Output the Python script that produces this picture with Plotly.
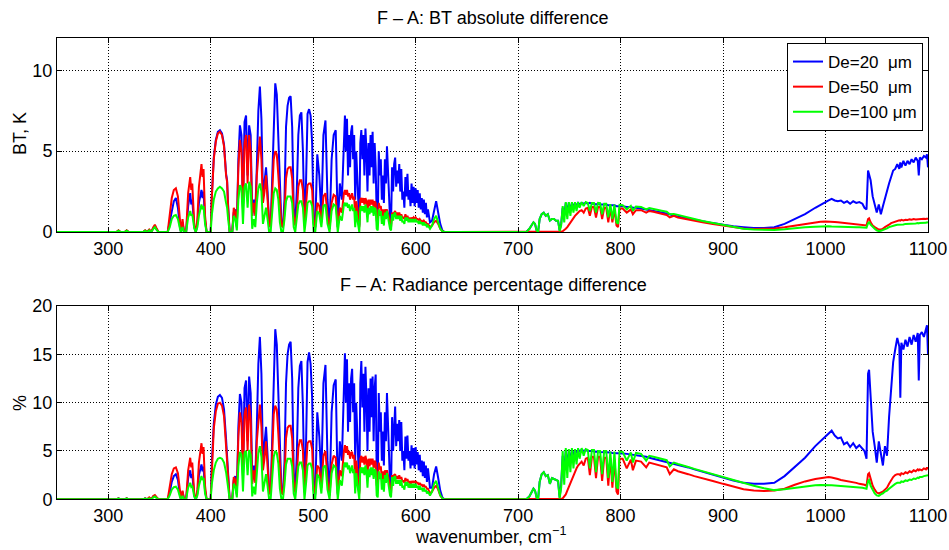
import plotly.graph_objects as go

# ---------------- data ----------------
# shared wavenumber grid (cm^-1)
WN = [
    # 250-358
    250, 305, 308, 310, 312, 316, 318, 320, 334, 336,
    338, 340, 342, 344, 345.5, 347, 349, 358,
    # 358-400
    360, 362, 364, 366, 368, 370, 371, 372.5, 374, 376,
    378, 380, 381, 382, 384, 385.5, 387, 388.5, 390, 391,
    392, 393, 394.5, 396, 400,
    # 400-421
    401, 403, 405, 407, 409, 411, 413, 415, 416, 417,
    418.5, 421,
    # 421-500
    422.5, 424, 425.5, 427, 428.5, 430, 431.5, 433, 434.5, 436,
    437.5, 439, 440.5, 442, 443.5, 445, 446.5, 448, 449.5, 451,
    452.5, 454, 455.5, 457, 458.5, 460, 461.5, 463, 464.5, 466,
    467.5, 469, 470.5, 472, 473.5, 475, 476.5, 478, 479.5, 481,
    482.5, 484, 485.5, 487, 488.5, 490, 491.5, 493, 494.5, 496,
    497.5, 499, 500.5,
    # 502-528
    502, 504, 506, 508, 510, 512, 514, 516, 518, 520,
    522, 524, 526, 528,
    # 530-612
    530, 531, 532, 533, 534, 535, 536, 537, 538, 539,
    540, 541, 542, 543, 544, 545, 546, 547, 548, 549,
    550, 551, 552, 553, 554, 555, 556, 557, 558, 559,
    560, 561, 562, 563, 564, 565, 566, 567, 568, 569,
    570, 571, 572, 573, 574, 575, 576, 577, 578, 579,
    580, 581, 582, 583, 584, 585, 586, 587, 588, 589,
    590, 591, 592, 593, 594, 595, 596, 597, 598, 599,
    600, 601, 602, 603, 604, 605, 606, 607, 608, 609,
    610, 611, 612,
    # 614-628
    614, 616, 618, 620, 622, 624, 626, 628,
    # 640-1100
    640, 700, 708, 711, 713, 715, 716.5, 718, 719.5, 721,
    723, 725, 727, 729, 731, 733, 735, 737, 739, 740.5,
    742, 743.5, 745, 746.5, 748, 749.5, 751, 752.5, 754, 755.5,
    757, 758.5, 760, 762, 764, 766, 768, 770, 772, 774,
    776, 778, 780, 782, 784, 786, 788, 790, 792, 794,
    796, 797.5, 799, 802, 806, 810, 812, 815, 820, 825,
    828, 832, 836, 840, 845, 848, 852, 856, 860, 866,
    872, 880, 890, 900, 910, 920, 930, 940, 950, 960,
    970, 980, 990, 995, 1000, 1003, 1006, 1009, 1012, 1015,
    1018, 1021, 1024, 1027, 1030, 1033, 1036, 1038, 1040, 1041.5,
    1042.5, 1044, 1046, 1048, 1050, 1052, 1054, 1056, 1058, 1060,
    1062, 1064, 1066, 1068, 1070, 1072, 1073, 1074, 1076, 1078,
    1080, 1082, 1084, 1086, 1088, 1090, 1091, 1092, 1094, 1096,
    1098, 1099, 1100,
]

# ---- top panel: BT absolute difference (K) ----
BT_DE20 = [
    0, 0, 0, 0.08, 0, 0, 0.08, 0, 0, 0.08,
    0, 0.12, 0, 0.25, 0.35, 0.2, 0, 0,
    0.6, 1.4, 1.9, 2.1, 1.5, 0.3, 0, 0.6, 0, 0,
    1.6, 2.4, 1.7, 2.0, 0.3, 0, 0.5, 1.8, 2.3, 2.6,
    2.1, 2.5, 0.7, 0, 0,
    2.1, 4.6, 5.7, 6.2, 6.3, 6.1, 5.4, 3.6, 3.2, 1.6,
    0, 0,
    1.2, 1.4, 0.3, 4.5, 6.6, 6.0, 1.5, 6.8, 7.2, 3.5,
    6.6, 6.0, 1.0, 2.0, 1.2, 4.0, 7.5, 9.0, 7.0, 2.2,
    3.0, 4.0, 2.5, 0.5, 0.3, 3.5, 7.5, 9.2, 8.5, 6.0,
    2.5, 0.5, 0.3, 2.0, 6.5, 7.8, 8.3, 8.4, 6.5, 1.5,
    0.5, 2.5, 6.0, 7.2, 7.4, 5.0, 0.5, 3.0, 7.3, 7.6,
    7.2, 5.5, 0.5,
    0.3, 4.8, 3.5, 1.0, 6.0, 6.9, 2.0, 0.2, 4.5, 6.0,
    6.3, 0.3, 3.0, 2.0,
    6.0, 7.2, 5.0, 7.0, 3.5, 6.0, 4.0, 6.2, 6.6, 4.5,
    6.0, 2.0, 5.0, 3.0, 1.0, 0.4, 5.5, 6.3, 4.5, 6.0,
    3.5, 6.4, 5.0, 2.5, 5.5, 3.5, 6.0, 4.0, 6.2, 3.0,
    5.5, 4.0, 1.0, 0.5, 5.0, 3.5, 4.5, 2.0, 3.5, 1.8,
    4.5, 3.0, 5.3, 3.5, 2.0, 0.8, 0.5, 4.0, 2.5, 4.2,
    4.6, 2.8, 3.8, 3.0, 4.2, 2.5, 3.9, 2.0, 2.5, 1.5,
    3.4, 2.2, 3.6, 2.0, 2.6, 1.6, 3.0, 1.8, 2.8, 1.6,
    2.7, 1.8, 2.6, 1.5, 2.4, 1.4, 2.1, 1.2, 2.0, 1.1,
    1.8, 0.9, 1.4,
    0.6, 0.7, 1.4, 1.9, 1.2, 0.5, 0.1, 0,
    0, 0, 0, 0.2, 0.4, 0.6, 0.5, 0.1, 0, 0.8,
    1.1, 1.2, 1.0, 1.1, 0.7, 0.8, 0.8, 0.7, 0.7, 0.1,
    0.5, 1.5, 1.0, 1.8, 1.2, 1.8, 1.3, 1.8, 1.5, 1.8,
    1.6, 1.8, 1.7, 1.8, 1.75, 1.8, 1.75, 1.8, 1.75, 1.75,
    1.7, 1.75, 1.7, 1.7, 1.7, 1.7, 1.65, 1.65, 1.65, 1.65,
    1.6, 1.6, 1.6, 1.6, 1.55, 1.55, 1.5, 1.5, 1.45, 1.4,
    1.35, 1.3, 1.25, 1.2, 1.15, 1.1, 1.0, 0.95, 0.9, 0.85,
    0.75, 0.65, 0.55, 0.45, 0.35, 0.3, 0.25, 0.25, 0.3, 0.5,
    0.8, 1.1, 1.5, 1.7, 1.85, 1.95, 2.05, 1.95, 1.9, 1.95,
    1.8, 1.9, 1.75, 1.9, 1.8, 1.85, 1.75, 1.5, 1.4, 3.8,
    3.6, 3.2, 2.2, 1.6, 1.2, 1.7, 1.1, 1.6, 2.1, 2.6,
    3.0, 3.4, 3.8, 3.9, 4.2, 3.9, 4.3, 4.0, 4.4, 4.1,
    4.4, 4.2, 4.5, 4.3, 4.6, 4.4, 3.5, 4.6, 4.5, 4.7,
    4.6, 4.8, 4.0,
]
BT_DE50 = [
    0, 0, 0, 0.1, 0, 0, 0.1, 0, 0, 0.1,
    0, 0.15, 0, 0.3, 0.45, 0.25, 0, 0,
    1.0, 2.1, 2.6, 2.7, 2.2, 0.5, 0, 0.8, 0, 0,
    2.4, 3.4, 2.6, 3.0, 0.4, 0, 0.8, 2.8, 3.6, 4.2,
    3.4, 3.9, 1.0, 0, 0,
    2.0, 4.5, 5.6, 6.1, 6.2, 6.0, 5.3, 3.5, 3.1, 1.5,
    0, 0,
    1.5, 1.2, 0.4, 4.0, 5.7, 5.0, 1.5, 5.5, 6.0, 3.0,
    6.0, 5.0, 1.0, 1.8, 1.0, 3.5, 5.0, 5.9, 4.5, 1.8,
    2.5, 3.5, 2.0, 0.5, 0.3, 2.5, 4.5, 5.0, 4.8, 3.5,
    1.5, 0.4, 0.3, 1.2, 3.3, 3.9, 4.0, 4.0, 3.3, 1.0,
    0.4, 1.2, 2.8, 3.2, 3.2, 2.6, 0.4, 1.5, 2.9, 3.0,
    3.0, 2.6, 0.6,
    0.3, 1.8, 1.6, 0.6, 2.2, 2.4, 1.0, 0.2, 1.8, 2.3,
    2.2, 0.3, 1.5, 1.2,
    2.4, 2.6, 2.3, 2.6, 2.2, 2.4, 2.0, 2.3, 2.4, 2.0,
    2.2, 1.0, 1.9, 1.5, 0.6, 0.3, 2.0, 2.1, 1.8, 2.1,
    1.7, 2.1, 1.9, 1.2, 2.0, 1.6, 2.0, 1.7, 2.0, 1.5,
    1.9, 1.8, 0.7, 0.5, 1.8, 1.5, 1.6, 1.0, 1.4, 0.9,
    1.4, 1.2, 1.4, 1.2, 0.9, 0.5, 0.3, 1.2, 1.0, 1.2,
    1.3, 1.0, 1.2, 1.0, 1.2, 1.0, 1.1, 0.9, 0.9, 0.8,
    1.1, 0.9, 1.0, 0.8, 0.9, 0.7, 0.9, 0.8, 0.9, 0.8,
    0.9, 0.8, 0.8, 0.7, 0.8, 0.7, 0.7, 0.6, 0.7, 0.6,
    0.6, 0.5, 0.5,
    0.3, 0.4, 0.6, 0.7, 0.5, 0.2, 0.05, 0,
    0, 0, 0, 0, 0, 0, 0, 0, 0, 0,
    0, 0, 0, 0, 0, 0, 0, 0, 0, 0,
    0.02, 0.05, 0.1, 0.2, 0.3, 0.45, 0.6, 0.75, 0.9, 1.0,
    1.1, 1.2, 1.3, 1.35, 1.2, 1.45, 1.5, 1.0, 1.55, 1.55,
    0.9, 1.55, 1.55, 0.8, 1.5, 1.5, 0.6, 1.5, 0.6, 1.45,
    0.4, 0.3, 1.45, 1.45, 1.2, 1.4, 1.1, 1.35, 1.35, 1.2,
    1.3, 1.25, 1.2, 1.15, 1.05, 0.9, 1.0, 0.9, 0.85, 0.75,
    0.7, 0.6, 0.5, 0.4, 0.3, 0.22, 0.18, 0.2, 0.22, 0.3,
    0.4, 0.5, 0.6, 0.63, 0.65, 0.65, 0.63, 0.62, 0.6, 0.58,
    0.55, 0.53, 0.5, 0.5, 0.48, 0.45, 0.43, 0.42, 0.4, 0.8,
    0.85, 0.6, 0.4, 0.3, 0.2, 0.15, 0.15, 0.2, 0.3, 0.35,
    0.45, 0.55, 0.6, 0.65, 0.7, 0.72, 0.7, 0.75, 0.72, 0.76,
    0.75, 0.78, 0.76, 0.8, 0.78, 0.8, 0.78, 0.82, 0.8, 0.82,
    0.8, 0.83, 0.8,
]
BT_DE100 = [
    0, 0, 0, 0.08, 0, 0, 0.08, 0, 0, 0.08,
    0, 0.1, 0, 0.2, 0.3, 0.15, 0, 0,
    0.3, 0.8, 1.0, 1.05, 0.8, 0.2, 0, 0.3, 0, 0,
    0.9, 1.3, 1.0, 1.1, 0.2, 0, 0.3, 1.0, 1.4, 1.7,
    1.4, 1.6, 0.5, 0, 0,
    1.0, 2.0, 2.5, 2.7, 2.8, 2.7, 2.5, 1.8, 1.5, 0.8,
    0, 0,
    1.0, 0.8, 0.1, 2.0, 2.9, 2.7, 0.5, 2.8, 3.0, 1.5,
    3.1, 2.8, 0.2, 0.8, 0.3, 1.8, 2.7, 3.0, 2.5, 0.5,
    1.0, 1.5, 0.8, 0, 0, 1.5, 2.4, 2.7, 2.6, 2.0,
    0.6, 0, 0, 0.8, 1.9, 2.2, 2.2, 2.2, 1.8, 0.3,
    0, 0.8, 1.7, 1.9, 1.9, 1.5, 0, 0.8, 1.8, 1.9,
    1.9, 1.6, 0,
    0, 1.3, 1.1, 0.3, 1.6, 1.7, 0.5, 0, 1.3, 1.7,
    1.6, 0, 1.0, 0.7,
    1.7, 1.8, 1.6, 1.8, 1.5, 1.7, 1.3, 1.6, 1.7, 1.3,
    1.5, 0.3, 1.3, 0.8, 0.2, 0, 1.5, 1.6, 1.3, 1.6,
    1.2, 1.7, 1.4, 0.6, 1.5, 1.1, 1.6, 1.2, 1.6, 1.0,
    1.5, 1.4, 0.2, 0.1, 1.4, 1.0, 1.3, 0.5, 1.0, 0.4,
    1.2, 0.8, 1.3, 0.9, 0.6, 0.2, 0.1, 1.1, 0.7, 1.1,
    1.2, 0.8, 1.0, 0.8, 1.0, 0.7, 1.0, 0.6, 0.7, 0.5,
    0.9, 0.7, 0.9, 0.6, 0.8, 0.6, 0.8, 0.6, 0.8, 0.6,
    0.8, 0.6, 0.7, 0.5, 0.7, 0.5, 0.6, 0.4, 0.6, 0.4,
    0.5, 0.3, 0.4,
    0.2, 0.4, 0.8, 1.0, 0.6, 0.2, 0.05, 0,
    0, 0, 0, 0.2, 0.4, 0.6, 0.5, 0.1, 0, 0.8,
    1.1, 1.2, 1.0, 1.1, 0.7, 0.8, 0.8, 0.7, 0.7, 0.05,
    0.4, 1.6, 0.6, 1.85, 0.8, 1.85, 1.0, 1.85, 1.2, 1.85,
    1.3, 1.85, 1.5, 1.85, 1.6, 1.85, 1.8, 1.3, 1.8, 1.8,
    1.2, 1.8, 1.78, 1.1, 1.75, 1.75, 0.9, 1.72, 0.8, 1.7,
    0.6, 0.5, 1.68, 1.66, 1.4, 1.62, 1.3, 1.58, 1.55, 1.4,
    1.48, 1.44, 1.38, 1.32, 1.25, 1.1, 1.12, 1.05, 1.0, 0.9,
    0.8, 0.68, 0.55, 0.42, 0.3, 0.2, 0.15, 0.13, 0.13, 0.17,
    0.25, 0.3, 0.33, 0.35, 0.35, 0.35, 0.34, 0.34, 0.33, 0.33,
    0.32, 0.32, 0.31, 0.3, 0.3, 0.29, 0.28, 0.28, 0.27, 0.55,
    0.6, 0.45, 0.3, 0.2, 0.1, 0.05, 0.08, 0.12, 0.18, 0.22,
    0.3, 0.35, 0.4, 0.42, 0.45, 0.45, 0.43, 0.47, 0.46, 0.5,
    0.5, 0.52, 0.5, 0.54, 0.53, 0.55, 0.53, 0.56, 0.55, 0.58,
    0.57, 0.6, 0.58,
]

# ---- bottom panel: radiance percentage difference (%) ----
PCT_DE20 = [
    0, 0, 0, 0.1, 0, 0, 0.1, 0, 0, 0.1,
    0, 0.15, 0, 0.3, 0.35, 0.2, 0, 0,
    0.7, 1.8, 2.4, 2.6, 2.0, 0.4, 0, 0.8, 0, 0,
    2.2, 3.0, 2.2, 2.6, 0.4, 0, 0.6, 2.5, 3.2, 3.6,
    2.9, 3.4, 0.9, 0, 0,
    3.5, 7.8, 9.8, 10.6, 10.8, 10.5, 9.3, 6.2, 4.5, 2.5,
    0, 0,
    2.0, 2.4, 0.5, 7.5, 10.9, 10.0, 2.5, 11.5, 12.3, 6.0,
    12.7, 11.0, 1.8, 3.5, 2.2, 7.5, 14.0, 16.8, 13.0, 4.0,
    5.5, 7.5, 4.5, 0.9, 0.5, 6.5, 14.0, 17.6, 16.0, 11.0,
    4.5, 0.9, 0.5, 3.8, 12.0, 15.0, 16.0, 16.3, 12.5, 2.8,
    0.9, 4.5, 11.5, 13.8, 14.3, 9.5, 0.9, 5.5, 14.2, 15.2,
    14.0, 10.5, 0.9,
    0.5, 9.0, 6.5, 2.0, 12.0, 13.9, 4.0, 0.4, 9.0, 11.8,
    12.4, 0.5, 6.0, 4.0,
    12.0, 15.1, 10.0, 14.5, 7.0, 12.0, 8.0, 12.5, 13.5, 9.0,
    12.0, 4.0, 10.0, 6.0, 2.0, 0.8, 12.0, 14.3, 9.5, 13.0,
    7.0, 13.7, 10.5, 5.0, 11.5, 7.0, 12.5, 8.5, 12.7, 6.0,
    11.5, 12.9, 2.5, 1.0, 11.0, 7.0, 9.0, 4.0, 7.0, 3.5,
    9.0, 6.0, 11.0, 7.0, 4.0, 1.6, 1.0, 8.5, 5.0, 8.5,
    9.6, 5.5, 7.8, 6.0, 8.2, 5.0, 8.0, 4.0, 5.0, 3.0,
    6.5, 4.2, 6.6, 4.0, 5.0, 3.2, 5.6, 3.5, 5.3, 3.2,
    5.4, 3.6, 4.9, 3.0, 4.6, 2.8, 4.0, 2.4, 3.9, 2.2,
    3.5, 1.8, 3.2,
    1.2, 1.2, 2.6, 3.4, 2.2, 0.9, 0.2, 0,
    0, 0, 0, 0.3, 0.7, 1.1, 0.9, 0.2, 0, 1.8,
    2.6, 2.8, 2.4, 2.5, 1.6, 2.2, 2.1, 2.0, 1.9, 0.2,
    1.5, 4.5, 3.0, 5.0, 3.5, 5.0, 4.0, 5.1, 4.5, 5.1,
    4.8, 5.1, 5.0, 5.1, 5.0, 5.1, 5.0, 5.0, 5.0, 5.0,
    4.9, 5.0, 4.9, 4.9, 4.9, 4.9, 4.85, 4.85, 4.8, 4.8,
    4.8, 4.8, 4.75, 4.75, 4.7, 4.65, 4.6, 4.55, 4.5, 4.4,
    4.3, 4.2, 4.1, 4.0, 3.9, 3.8, 3.7, 3.55, 3.45, 3.3,
    3.1, 2.85, 2.55, 2.25, 1.95, 1.7, 1.6, 1.6, 1.7, 2.4,
    3.3, 4.3, 5.5, 6.0, 6.5, 6.9, 7.1, 6.6, 6.3, 6.4,
    5.7, 5.9, 5.4, 5.8, 5.3, 5.6, 5.2, 5.0, 4.2, 13.0,
    13.4, 11.0, 7.0, 5.5, 3.8, 6.0, 4.5, 3.5, 5.5, 4.5,
    8.5, 11.5, 14.2, 15.5, 16.7, 15.8, 10.5, 16.2, 15.5, 16.5,
    15.8, 16.8, 16.0, 17.0, 16.3, 17.2, 12.3, 17.0, 17.3, 16.8,
    17.6, 18.0, 15.0,
]
PCT_DE50 = [
    0, 0, 0, 0.1, 0, 0, 0.1, 0, 0, 0.1,
    0, 0.2, 0, 0.35, 0.45, 0.25, 0, 0,
    1.2, 2.6, 3.2, 3.3, 2.7, 0.6, 0, 0.9, 0, 0,
    3.0, 4.3, 3.3, 3.8, 0.5, 0, 1.0, 3.8, 4.9, 5.8,
    4.7, 5.4, 1.4, 0, 0,
    3.2, 7.3, 9.1, 9.9, 10.0, 9.7, 8.6, 5.7, 4.2, 2.3,
    0, 0,
    2.3, 2.0, 0.6, 6.5, 9.0, 8.0, 2.4, 8.8, 9.5, 5.0,
    9.8, 8.2, 1.6, 3.0, 1.7, 6.0, 8.5, 9.8, 7.5, 3.0,
    4.2, 6.0, 3.4, 0.8, 0.5, 4.8, 8.8, 9.7, 9.3, 6.8,
    2.9, 0.7, 0.5, 2.3, 6.3, 7.4, 7.6, 7.6, 6.3, 1.9,
    0.7, 2.3, 5.3, 6.1, 6.1, 5.0, 0.7, 2.9, 5.8, 6.0,
    6.0, 5.2, 1.1,
    0.6, 3.5, 3.2, 1.2, 4.5, 5.0, 2.0, 0.4, 3.6, 4.5,
    4.3, 0.6, 3.0, 2.4,
    5.0, 5.6, 4.8, 5.5, 4.6, 5.0, 4.2, 4.8, 4.9, 4.2,
    4.6, 2.0, 4.0, 3.1, 1.2, 0.6, 4.2, 4.5, 3.8, 4.4,
    3.6, 4.5, 4.0, 2.5, 4.2, 3.4, 4.2, 3.6, 4.2, 3.2,
    4.0, 3.8, 1.5, 1.0, 3.8, 3.1, 3.4, 2.1, 2.9, 1.9,
    3.0, 2.5, 3.0, 2.5, 1.9, 1.0, 0.6, 2.5, 2.1, 2.5,
    2.6, 2.1, 2.4, 2.1, 2.5, 2.1, 2.3, 1.9, 1.9, 1.7,
    2.2, 1.9, 2.1, 1.7, 1.9, 1.5, 1.9, 1.7, 1.9, 1.7,
    1.9, 1.7, 1.7, 1.5, 1.7, 1.5, 1.5, 1.3, 1.5, 1.3,
    1.3, 1.1, 1.1,
    0.6, 0.8, 1.2, 1.4, 1.0, 0.4, 0.1, 0,
    0, 0, 0, 0, 0, 0, 0, 0, 0, 0,
    0, 0, 0, 0, 0, 0, 0, 0, 0, 0.02,
    0.05, 0.1, 0.3, 0.5, 0.9, 1.3, 1.8, 2.2, 2.6, 2.9,
    3.2, 3.5, 3.7, 3.9, 3.5, 4.2, 4.3, 2.5, 4.4, 4.4,
    2.2, 4.4, 4.4, 1.9, 4.3, 4.3, 1.4, 4.3, 1.2, 4.2,
    0.8, 0.5, 4.2, 4.2, 3.2, 4.1, 3.0, 4.0, 3.9, 3.3,
    3.8, 3.7, 3.6, 3.5, 3.3, 2.6, 3.1, 2.9, 2.8, 2.6,
    2.4, 2.2, 1.9, 1.6, 1.3, 1.05, 0.9, 0.85, 0.9, 1.1,
    1.5, 1.85, 2.1, 2.2, 2.3, 2.3, 2.25, 2.2, 2.1, 2.0,
    1.95, 1.9, 1.8, 1.75, 1.7, 1.6, 1.55, 1.5, 1.4, 2.6,
    2.7, 2.0, 1.4, 1.0, 0.7, 0.6, 0.7, 0.8, 1.0, 1.2,
    1.6, 2.0, 2.3, 2.5, 2.6, 2.6, 2.5, 2.7, 2.6, 2.8,
    2.7, 2.9, 2.8, 3.0, 2.9, 3.1, 3.0, 3.1, 3.0, 3.2,
    3.1, 3.3, 3.1,
]
PCT_DE100 = [
    0, 0, 0, 0.08, 0, 0, 0.08, 0, 0, 0.08,
    0, 0.1, 0, 0.2, 0.3, 0.15, 0, 0,
    0.4, 1.0, 1.25, 1.3, 1.0, 0.25, 0, 0.35, 0, 0,
    1.2, 1.7, 1.3, 1.4, 0.25, 0, 0.4, 1.4, 2.0, 2.4,
    2.0, 2.2, 0.6, 0, 0,
    1.5, 3.0, 3.8, 4.2, 4.3, 4.2, 3.8, 2.8, 2.2, 1.2,
    0, 0,
    1.6, 1.3, 0.2, 3.4, 4.9, 4.6, 0.8, 4.8, 5.0, 2.5,
    5.1, 4.6, 0.3, 1.3, 0.5, 3.2, 4.8, 5.5, 4.4, 0.8,
    1.7, 2.6, 1.4, 0, 0, 2.8, 4.4, 5.0, 4.8, 3.7,
    1.1, 0, 0, 1.5, 3.6, 4.2, 4.2, 4.2, 3.4, 0.6,
    0, 1.6, 3.4, 3.8, 3.8, 3.0, 0, 1.6, 3.5, 3.7,
    3.7, 3.1, 0,
    0, 2.6, 2.2, 0.6, 3.3, 3.5, 1.0, 0, 2.7, 3.5,
    3.3, 0, 2.0, 1.4,
    3.5, 3.8, 3.3, 3.8, 3.1, 3.5, 2.7, 3.3, 3.5, 2.7,
    3.1, 0.6, 2.7, 1.7, 0.4, 0, 3.1, 3.3, 2.7, 3.3,
    2.5, 3.5, 2.9, 1.2, 3.1, 2.3, 3.3, 2.5, 3.3, 2.1,
    3.1, 2.9, 0.4, 0.2, 2.9, 2.1, 2.7, 1.0, 2.1, 0.8,
    2.5, 1.7, 2.7, 1.9, 1.2, 0.4, 0.2, 2.3, 1.4, 2.3,
    2.4, 1.6, 2.0, 1.6, 2.0, 1.4, 2.0, 1.2, 1.4, 1.0,
    1.8, 1.4, 1.8, 1.2, 1.6, 1.2, 1.6, 1.2, 1.6, 1.2,
    1.6, 1.2, 1.4, 1.0, 1.4, 1.0, 1.2, 0.8, 1.2, 0.8,
    1.0, 0.6, 0.8,
    0.4, 0.8, 1.6, 1.9, 1.2, 0.4, 0.1, 0,
    0, 0, 0, 0.3, 0.7, 1.1, 0.9, 0.2, 0, 1.8,
    2.6, 2.8, 2.4, 2.5, 1.6, 2.2, 2.1, 2.0, 1.9, 0.1,
    1.2, 5.0, 1.5, 5.3, 2.2, 5.2, 2.8, 5.3, 3.2, 5.2,
    3.6, 5.3, 4.2, 5.3, 4.5, 5.2, 5.1, 3.2, 5.1, 5.1,
    2.8, 5.0, 5.0, 2.6, 5.0, 5.0, 2.2, 4.95, 1.8, 4.95,
    1.3, 1.1, 4.95, 4.9, 4.0, 4.85, 3.8, 4.8, 4.7, 4.0,
    4.5, 4.4, 4.3, 4.2, 4.05, 3.4, 3.8, 3.65, 3.55, 3.35,
    3.15, 2.9, 2.6, 2.3, 2.0, 1.7, 1.4, 1.15, 0.95, 1.05,
    1.2, 1.35, 1.45, 1.48, 1.5, 1.48, 1.46, 1.44, 1.42, 1.4,
    1.37, 1.34, 1.3, 1.28, 1.25, 1.22, 1.2, 1.15, 1.1, 1.9,
    2.0, 1.4, 1.0, 0.6, 0.4, 0.35, 0.5, 0.6, 0.8, 0.9,
    1.1, 1.3, 1.5, 1.6, 1.7, 1.75, 1.7, 1.85, 1.8, 1.95,
    1.9, 2.05, 2.0, 2.15, 2.1, 2.25, 2.2, 2.3, 2.3, 2.4,
    2.45, 2.55, 2.5,
]

SERIES_NAMES = ["De=20\u00a0\u00a0\u03bcm", "De=50\u00a0\u00a0\u03bcm", "De=100\u00a0\u03bcm"]
SERIES_COLORS = ["#0000ff", "#ff0000", "#00ff00"]
X_TICKS = [300, 400, 500, 600, 700, 800, 900, 1000, 1100]
TOP_Y_TICKS = [0, 5, 10]
BOT_Y_TICKS = [0, 5, 10, 15, 20]

for name, arr in [("BT_DE20", BT_DE20), ("BT_DE50", BT_DE50), ("BT_DE100", BT_DE100),
                  ("PCT_DE20", PCT_DE20), ("PCT_DE50", PCT_DE50), ("PCT_DE100", PCT_DE100)]:
    assert len(arr) == len(WN), (name, len(arr), len(WN))

# ---------------- figure ----------------
FONT = "Liberation Sans, Arial, Helvetica, sans-serif"
FS = 18
fig = go.Figure()

top = [BT_DE20, BT_DE50, BT_DE100]
bot = [PCT_DE20, PCT_DE50, PCT_DE100]
for i in range(3):
    fig.add_trace(go.Scatter(x=WN, y=top[i], mode="lines", name=SERIES_NAMES[i],
                             line=dict(color=SERIES_COLORS[i], width=2),
                             xaxis="x", yaxis="y", legendgroup=str(i)))
for i in range(3):
    fig.add_trace(go.Scatter(x=WN, y=bot[i], mode="lines", name=SERIES_NAMES[i],
                             line=dict(color=SERIES_COLORS[i], width=2),
                             xaxis="x2", yaxis="y2", legendgroup=str(i), showlegend=False))

axis_common = dict(
    showline=True, linecolor="black", linewidth=1, mirror="ticks",
    ticks="inside", ticklen=5, tickcolor="black", tickwidth=1,
    showgrid=True, gridcolor="black", gridwidth=1, griddash="1px,2px",
    zeroline=False, automargin=False,
    tickfont=dict(family=FONT, size=FS, color="black"),
)
XDOM = [57 / 949, 928 / 949]
fig.update_layout(
    width=949, height=550, margin=dict(l=0, r=0, t=0, b=0, autoexpand=False),
    paper_bgcolor="white", plot_bgcolor="white", showlegend=True,
    xaxis=dict(domain=XDOM, anchor="y", range=[250, 1100], tickvals=X_TICKS, **axis_common),
    yaxis=dict(domain=[(550 - 232) / 550, (550 - 38) / 550], anchor="x", range=[0, 12],
               tickvals=TOP_Y_TICKS, **axis_common),
    xaxis2=dict(domain=XDOM, anchor="y2", range=[250, 1100], tickvals=X_TICKS, **axis_common),
    yaxis2=dict(domain=[(550 - 499.3) / 550, (550 - 306) / 550], anchor="x2", range=[0, 20],
                tickvals=BOT_Y_TICKS, **axis_common),
    legend=dict(x=923 / 949, xanchor="right", y=1 - 43 / 550, yanchor="top",
                bgcolor="white", bordercolor="black", borderwidth=1, itemwidth=30,
                font=dict(family=FONT, size=17, color="black"), tracegroupgap=0),
)

ann = dict(xref="paper", yref="paper", showarrow=False, xanchor="center", yanchor="middle",
           font=dict(family=FONT, size=FS, color="black"))
fig.add_annotation(text="F \u2013 A: BT absolute difference", x=492 / 949, y=1 - 18 / 550, **ann)
fig.add_annotation(text="F \u2013 A: Radiance percentage difference", x=493 / 949, y=1 - 285 / 550, **ann)
fig.add_annotation(text="wavenumber, cm<sup>\u22121</sup>", x=490 / 949, y=1 - 535 / 550, **ann)
fig.add_annotation(text="BT, K", x=20 / 949, y=1 - 134 / 550, textangle=-90, **ann)
fig.add_annotation(text="%", x=20 / 949, y=1 - 403 / 550, textangle=-90, **ann)

fig.write_html("out.html")
